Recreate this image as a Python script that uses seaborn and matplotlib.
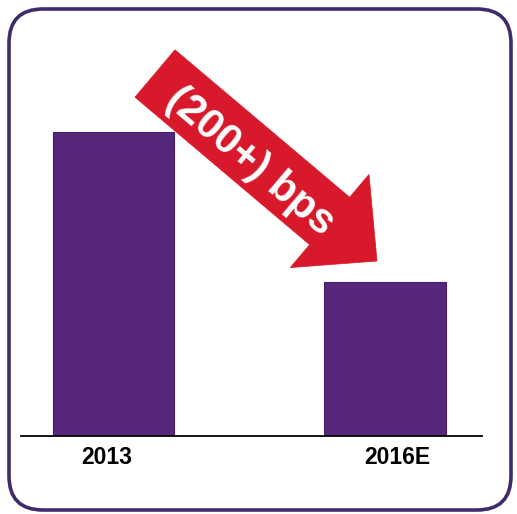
import matplotlib
matplotlib.use("Agg")
import matplotlib.pyplot as plt
import seaborn as sns
import pandas as pd
from matplotlib.patches import FancyBboxPatch, FancyArrow

categories = ["2013", "2016E"]
values = [4.05, 2.05]
arrow_label = "(200+) bps"

sns.set_theme(style="white")
plt.rcParams['font.family'] = ['Liberation Sans', 'DejaVu Sans']

W, H = 517, 514
fig = plt.figure(figsize=(W / 100, H / 100), dpi=100)
fig.patch.set_facecolor("white")

# overlay in pixel coords for frame
ov = fig.add_axes([0, 0, 1, 1], zorder=0)
ov.set_xlim(0, W)
ov.set_ylim(H, 0)
ov.axis("off")
frame = FancyBboxPatch((9, 9), 502, 501,
                       boxstyle="round,pad=0,rounding_size=34",
                       facecolor="white", edgecolor="#3f2b6c", linewidth=2.6)
ov.add_patch(frame)

# main axes
left, right = 21 / W, 482 / W
bottom, top = 1 - 436 / H, 1 - 40 / H
ax = fig.add_axes([left, bottom, right - left, top - bottom], zorder=1)
ax.patch.set_alpha(0)
df = pd.DataFrame({"year": categories, "value": values})
sns.barplot(data=df, x="year", y="value", color="#56277a", saturation=1,
            width=0.446, ax=ax)
for p in ax.patches:
    p.set_facecolor("#56277a")
    p.set_edgecolor("#4a1f6a")
    p.set_linewidth(0.8)
ax.set_xlim(-0.34, 1.357)
ax.set_ylim(0, 5.276)
for s in ["top", "right", "left"]:
    ax.spines[s].set_visible(False)
ax.spines["bottom"].set_color("black")
ax.spines["bottom"].set_linewidth(1.3)
ax.set_yticks([])
ax.set_xlabel("")
ax.set_ylabel("")
ax.set_xticks([-0.025, 1.045])
ax.set_xticklabels(categories, fontsize=16.5, fontweight="bold", color="black")
ax.tick_params(axis="x", length=0, pad=7.5)

# arrow overlay on top
ov2 = fig.add_axes([0, 0, 1, 1], zorder=2)
ov2.set_xlim(0, W)
ov2.set_ylim(H, 0)
ov2.axis("off")
ov2.patch.set_alpha(0)
x0, y0 = 155, 73.5
x1, y1 = 377, 261
arr = FancyArrow(x0, y0, x1 - x0, y1 - y0, width=62, head_width=122,
                 head_length=62, length_includes_head=True,
                 facecolor="#d7192b", edgecolor="#d7192b", linewidth=0.5)
ov2.add_patch(arr)
ov2.text(250, 162, arrow_label, rotation=-40.2, rotation_mode="anchor",
         ha="center", va="center", fontsize=30, fontweight="bold", color="white")

fig.savefig("out.png", dpi=100, facecolor="white")
